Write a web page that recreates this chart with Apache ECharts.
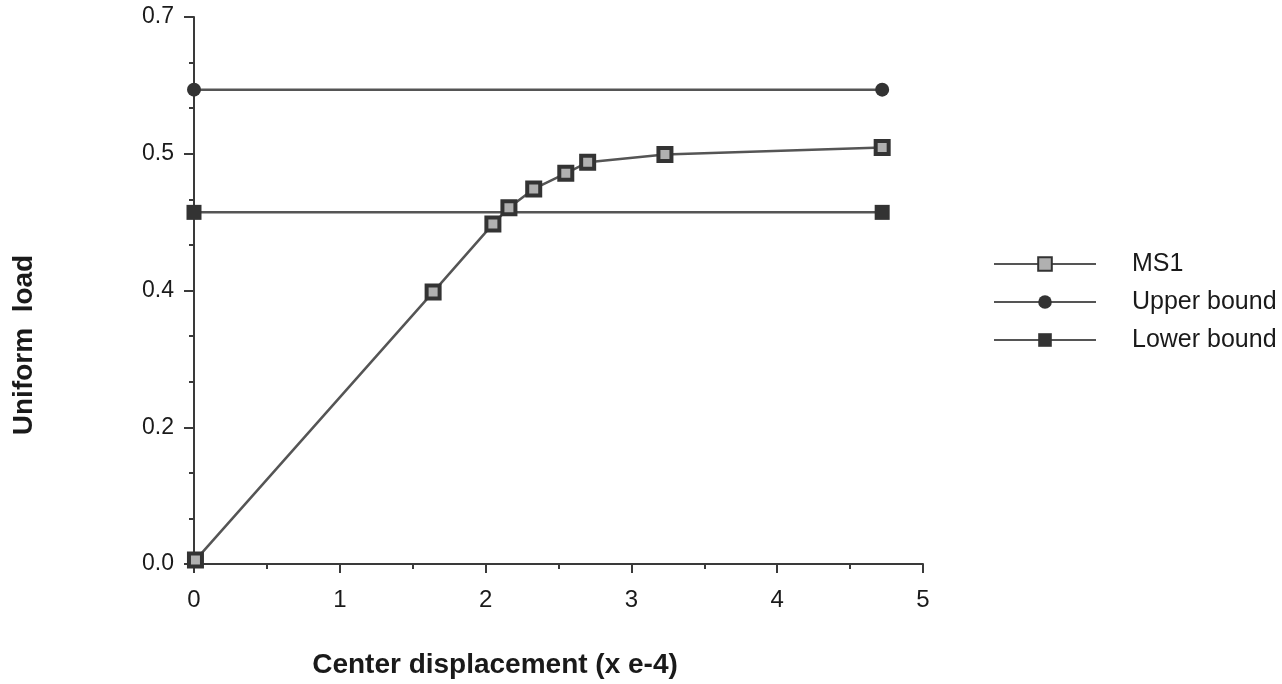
<!DOCTYPE html>
<html>
<head>
<meta charset="utf-8">
<script src="https://cdn.jsdelivr.net/npm/echarts@6/dist/echarts.min.js"></script>
<style>
  html, body { margin: 0; padding: 0; background: #ffffff; }
  #chart { width: 1282px; height: 684px; }
</style>
</head>
<body>
<div id="chart"></div>
<script>
// Center displacement (x e-4) vs uniform load
const ms1X = [0.01, 1.64, 2.05, 2.16, 2.33, 2.55, 2.70, 3.23, 4.72];
const ms1Y = [0.005, 0.348, 0.435, 0.456, 0.480, 0.500, 0.514, 0.524, 0.533];
const upperX = [0, 4.72];
const upperY = [0.607, 0.607];
const lowerX = [0, 4.72];
const lowerY = [0.450, 0.450];
const yTickLabels = ['0.0', '0.2', '0.4', '0.5', '0.7'];
const seriesNames = ['MS1', 'Upper bound', 'Lower bound'];

const Y_STEP = 0.175;
const ink = '#3a3a3a';
const lineInk = '#555555';
const font = 'Liberation Sans, Arial, Helvetica, sans-serif';

function pairs(xs, ys) { return xs.map((x, i) => [x, ys[i]]); }

const chart = echarts.init(document.getElementById('chart'), null, { renderer: 'canvas' });

chart.setOption({
  backgroundColor: '#ffffff',
  animation: false,
  grid: { left: 194, right: 359, top: 17, bottom: 120, containLabel: false },
  xAxis: {
    type: 'value', min: 0, max: 5, interval: 1,
    axisLine: { show: true, lineStyle: { color: ink, width: 2 } },
    axisTick: { show: true, inside: false, length: 9, lineStyle: { color: ink, width: 2 } },
    minorTick: { show: true, splitNumber: 2, length: 5, lineStyle: { color: ink, width: 2 } },
    splitLine: { show: false },
    axisLabel: { margin: 24, color: '#1a1a1a', fontFamily: font, fontSize: 24 }
  },
  yAxis: {
    type: 'value', min: 0, max: 0.7, interval: Y_STEP,
    axisLine: { show: true, lineStyle: { color: ink, width: 2 } },
    axisTick: { show: true, inside: false, length: 10, lineStyle: { color: ink, width: 2 } },
    minorTick: { show: true, splitNumber: 3, length: 5, lineStyle: { color: ink, width: 2 } },
    splitLine: { show: false },
    axisLabel: {
      margin: 20, color: '#1a1a1a', fontFamily: font, fontSize: 23,
      formatter: v => yTickLabels[Math.round(v / Y_STEP)]
    }
  },
  legend: {
    orient: 'vertical', left: 988, top: 246,
    itemWidth: 102, itemHeight: 17, itemGap: 12,
    data: seriesNames,
    textStyle: { color: '#1a1a1a', fontFamily: font, fontSize: 25, lineHeight: 26, padding: [0, 0, 0, 31] }
  },
  graphic: [
    {
      type: 'text', x: 495, y: 665,
      style: { text: 'Center displacement (x e-4)', fill: '#1a1a1a', font: 'bold 28px ' + font, align: 'center', verticalAlign: 'middle' }
    },
    {
      type: 'text', x: 24, y: 345, rotation: Math.PI / 2,
      style: { text: 'Uniform  load', fill: '#1a1a1a', font: 'bold 28px ' + font, align: 'center', verticalAlign: 'middle' }
    }
  ],
  series: [
    {
      name: seriesNames[0], type: 'line', data: pairs(ms1X, ms1Y),
      symbol: 'rect', symbolSize: 13, showAllSymbol: true,
      lineStyle: { color: lineInk, width: 2.5 },
      itemStyle: { color: '#b0b0b0', borderColor: '#333333', borderWidth: 4 },
      z: 3
    },
    {
      name: seriesNames[1], type: 'line', data: pairs(upperX, upperY),
      symbol: 'circle', symbolSize: 14,
      lineStyle: { color: lineInk, width: 2.5 },
      itemStyle: { color: '#333333', borderWidth: 0 },
      z: 2
    },
    {
      name: seriesNames[2], type: 'line', data: pairs(lowerX, lowerY),
      symbol: 'rect', symbolSize: 15,
      lineStyle: { color: lineInk, width: 2.5 },
      itemStyle: { color: '#333333', borderWidth: 0 },
      z: 2
    }
  ]
});
</script>
</body>
</html>
